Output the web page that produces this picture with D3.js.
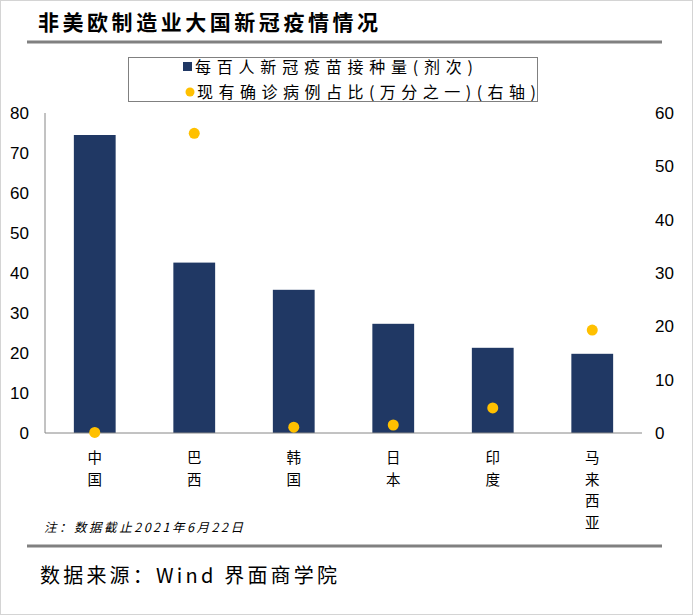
<!DOCTYPE html>
<html>
<head>
<meta charset="utf-8">
<script src="https://cdn.jsdelivr.net/npm/d3@7"></script>
<style>
  body { margin: 0; background: #fff; }
  svg { display: block; }
</style>
</head>
<body>
<svg id="chart" width="693" height="615"></svg>
<script>
// data
var countries = ["中国", "巴西", "韩国", "日本", "印度", "马来西亚"];
var doses = [74.5, 42.6, 35.8, 27.3, 21.3, 19.8];      // 每百人新冠疫苗接种量(剂次)
var activeCases = [0.1, 56.2, 1.1, 1.5, 4.7, 19.3];    // 现有确诊病例占比(万分之一)
var leftTicks = [0, 10, 20, 30, 40, 50, 60, 70, 80];
var rightTicks = [0, 10, 20, 30, 40, 50, 60];

var svg = d3.select("#chart");
var cjk = "'Noto Sans CJK SC', sans-serif";
var num = "'Liberation Sans', Arial, sans-serif";

// outer frame
svg.append("rect").attr("x", 0.5).attr("y", 0.5).attr("width", 692).attr("height", 614)
    .attr("fill", "#fff").attr("stroke", "#d4d4d4");

// title + rule
svg.append("text").attr("x", 38).attr("y", 30)
    .attr("font-family", cjk).attr("font-size", 21).attr("font-weight", "bold")
    .attr("textLength", 340).attr("lengthAdjust", "spacing")
    .text("非美欧制造业大国新冠疫情情况");
svg.append("line").attr("x1", 27).attr("x2", 662).attr("y1", 42).attr("y2", 42)
    .attr("stroke", "#808080").attr("stroke-width", 3);

//--------------------------------- scales ---------------------------------//
var x = d3.scaleBand().domain(countries).range([45, 642]).paddingInner(0.58).paddingOuter(0.29);
var yL = d3.scaleLinear().domain([0, 80]).range([433, 113]);
var yR = d3.scaleLinear().domain([0, 60]).range([433, 113]);

// left axis labels
var gl = svg.append("g").attr("transform", "translate(29,0)")
    .call(d3.axisLeft(yL).tickValues(leftTicks).tickSize(0).tickPadding(0));
gl.select(".domain").remove();
gl.selectAll("text").attr("font-family", num).attr("font-size", 17).attr("fill", "#000");

// right axis labels
var gr = svg.append("g").attr("transform", "translate(655,0)")
    .call(d3.axisRight(yR).tickValues(rightTicks).tickSize(0).tickPadding(0));
gr.select(".domain").remove();
gr.selectAll("text").attr("font-family", num).attr("font-size", 17).attr("fill", "#000");

// bars
svg.append("g").selectAll("rect").data(doses).enter().append("rect")
    .attr("x", function(d, i) { return x(countries[i]); })
    .attr("y", function(d) { return yL(d); })
    .attr("width", x.bandwidth())
    .attr("height", function(d) { return yL(0) - yL(d); })
    .attr("fill", "#203864");

// axis lines
svg.append("line").attr("x1", 45).attr("x2", 45).attr("y1", 113).attr("y2", 433)
    .attr("stroke", "#868686").attr("stroke-width", 1);
svg.append("line").attr("x1", 45).attr("x2", 642).attr("y1", 433).attr("y2", 433)
    .attr("stroke", "#868686").attr("stroke-width", 1);

// dots (right axis)
svg.append("g").selectAll("circle").data(activeCases).enter().append("circle")
    .attr("cx", function(d, i) { return x(countries[i]) + x.bandwidth() / 2; })
    .attr("cy", function(d) { return yR(d); })
    .attr("r", 5.5)
    .attr("fill", "#ffc000");

// category labels, one char per row (each char its own text)
var catG = svg.append("g");
countries.forEach(function(name) {
    var cx = x(name) + x.bandwidth() / 2;
    name.split("").forEach(function(ch, k) {
        catG.append("text")
            .attr("x", cx).attr("y", 463 + k * 21.5)
            .attr("font-family", cjk).attr("font-size", 14.5).attr("text-anchor", "middle")
            .text(ch);
    });
});

//--------------------------------- legend ---------------------------------//
svg.append("rect").attr("x", 128.5).attr("y", 57.5).attr("width", 409).attr("height", 44)
    .attr("fill", "#fff").attr("stroke", "#808080");
svg.append("rect").attr("x", 183).attr("y", 62).attr("width", 9).attr("height", 9).attr("fill", "#203864");
svg.append("text").attr("x", 195).attr("y", 73).attr("font-family", cjk).attr("font-size", 16)
    .attr("textLength", 278).attr("lengthAdjust", "spacing")
    .text("每百人新冠疫苗接种量(剂次)");
svg.append("circle").attr("cx", 190).attr("cy", 92).attr("r", 4.5).attr("fill", "#ffc000");
svg.append("text").attr("x", 197).attr("y", 98).attr("font-family", cjk).attr("font-size", 16)
    .attr("textLength", 339).attr("lengthAdjust", "spacing")
    .text("现有确诊病例占比(万分之一)(右轴)");

// note
svg.append("text").attr("x", 44).attr("y", 532).attr("font-family", cjk).attr("font-size", 12.5)
    .attr("font-style", "italic").attr("textLength", 199).attr("lengthAdjust", "spacing")
    .text("注：数据截止2021年6月22日");

// bottom rule + source
svg.append("line").attr("x1", 27).attr("x2", 662).attr("y1", 546).attr("y2", 546)
    .attr("stroke", "#808080").attr("stroke-width", 3);
svg.append("text").attr("x", 40).attr("y", 583).attr("font-family", cjk).attr("font-size", 20)
    .attr("textLength", 297).attr("lengthAdjust", "spacing")
    .text("数据来源：Wind 界面商学院");
</script>
</body>
</html>
